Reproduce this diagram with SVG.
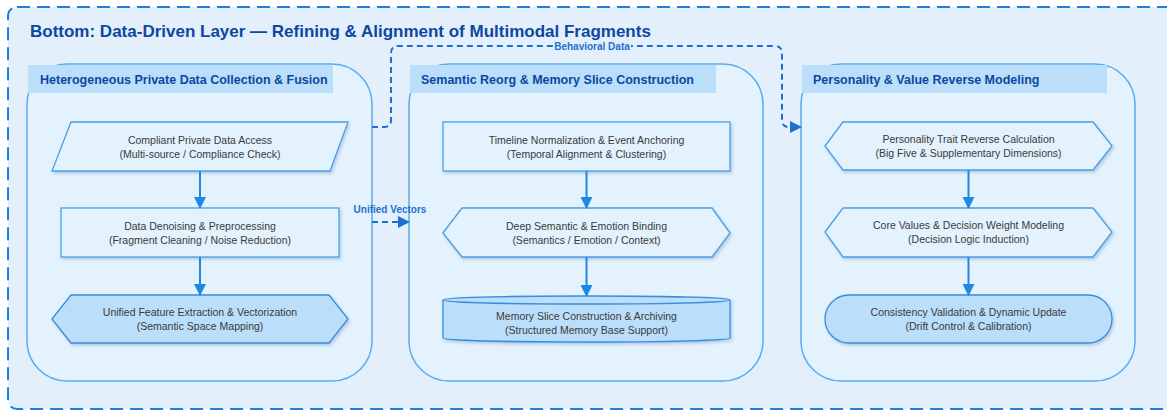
<svg xmlns="http://www.w3.org/2000/svg" width="1167" height="411" viewBox="0 0 1167 411">
<style>
.title{font-family:"Liberation Sans",Arial,sans-serif;font-weight:bold;font-size:17px;fill:#0d47a1}
.hdr{font-family:"Liberation Sans",Arial,sans-serif;font-weight:bold;font-size:12.5px;fill:#0d47a1}
.band{fill:#bbdefb}
.cont{fill:#e3f2fd;stroke:#5aacf0;stroke-width:1.5}
.node{fill:#e3f2fd;stroke:#4a9fe8;stroke-width:1.3;filter:url(#sh)}
.nodeD{fill:#bbdefb;stroke:#3a8de0;stroke-width:1.3;filter:url(#sh)}
.nt{font-family:"Liberation Sans",Arial,sans-serif;font-size:10.5px;fill:#3a3a3a;text-anchor:middle}
.flow{stroke:#1e88e5;stroke-width:2;fill:none;marker-end:url(#ah)}
.dash{stroke:#1f6fd0;stroke-width:2;fill:none;stroke-dasharray:6 4;marker-end:url(#ahd)}
.lbl{font-family:"Liberation Sans",Arial,sans-serif;font-weight:bold;font-size:10px;fill:#1f6fd0;text-anchor:middle}
</style>
<defs>
<filter id="sh" x="-10%" y="-20%" width="120%" height="150%">
<feDropShadow dx="1.5" dy="2" stdDeviation="1.5" flood-color="#5a7fa8" flood-opacity="0.35"/>
</filter>
<marker id="ah" markerUnits="userSpaceOnUse" markerWidth="12" markerHeight="12" viewBox="0 0 12 12" refX="11" refY="6" orient="auto">
<path d="M0,0 L12,6 L0,12 Z" fill="#1e88e5"/>
</marker>
<marker id="ahd" markerUnits="userSpaceOnUse" markerWidth="12" markerHeight="12" viewBox="0 0 12 12" refX="11" refY="6" orient="auto">
<path d="M0,0 L12,6 L0,12 Z" fill="#1f6fd0"/>
</marker>
</defs>
<rect x="0" y="0" width="1167" height="411" fill="#ffffff"/>
<g id="layer">
<rect x="8" y="7" width="1175" height="402" rx="9" fill="#e3f0fc" stroke="#1e7fe0" stroke-width="2" stroke-dasharray="13 7"/>
<text class="title" x="30" y="37">Bottom: Data-Driven Layer — Refining &amp; Alignment of Multimodal Fragments</text>
</g>
<g id="group-collection">
<rect class="cont" x="27" y="64" width="345" height="317" rx="40"/>
<rect class="band" x="28" y="65" width="305" height="28"/>
<text class="hdr" x="40" y="84">Heterogeneous Private Data Collection &amp; Fusion</text>
</g>
<g id="group-semantic">
<rect class="cont" x="409" y="64" width="354" height="317" rx="40"/>
<rect class="band" x="410" y="65" width="306" height="28"/>
<text class="hdr" x="421" y="84">Semantic Reorg &amp; Memory Slice Construction</text>
</g>
<g id="group-personality">
<rect class="cont" x="801" y="64" width="334" height="317" rx="40"/>
<rect class="band" x="802" y="65" width="305" height="28"/>
<text class="hdr" x="813" y="84">Personality &amp; Value Reverse Modeling</text>
</g>
<g id="n-access">
<polygon class="node" points="71,122 348,122 330,171 52,171"/>
<text class="nt" x="200" y="144">Compliant Private Data Access</text>
<text class="nt" x="200" y="158">(Multi-source / Compliance Check)</text>
</g>
<g id="n-denoise">
<rect class="node" x="61" y="208" width="278" height="49"/>
<text class="nt" x="200" y="230">Data Denoising &amp; Preprocessing</text>
<text class="nt" x="200" y="244">(Fragment Cleaning / Noise Reduction)</text>
</g>
<g id="n-feature">
<polygon class="nodeD" points="52,319 71,295 329,295 348,319 329,343 71,343"/>
<text class="nt" x="200" y="316">Unified Feature Extraction &amp; Vectorization</text>
<text class="nt" x="200" y="330">(Semantic Space Mapping)</text>
</g>
<g id="n-timeline">
<rect class="node" x="443" y="122" width="287" height="49"/>
<text class="nt" x="586.5" y="144">Timeline Normalization &amp; Event Anchoring</text>
<text class="nt" x="586.5" y="158">(Temporal Alignment &amp; Clustering)</text>
</g>
<g id="n-binding">
<polygon class="node" points="443,233 462,208 712,208 730,233 712,257 462,257"/>
<text class="nt" x="586.5" y="230">Deep Semantic &amp; Emotion Binding</text>
<text class="nt" x="586.5" y="244">(Semantics / Emotion / Context)</text>
</g>
<g id="n-memory">
<path class="nodeD" d="M443,300 A143.5,4 0 0 1 730,300 V338 A143.5,4 0 0 1 443,338 Z"/>
<path d="M443,300 A143.5,4 0 0 0 730,300" fill="none" stroke="#3a8de0" stroke-width="1.3"/>
<text class="nt" x="586.5" y="320">Memory Slice Construction &amp; Archiving</text>
<text class="nt" x="586.5" y="334">(Structured Memory Base Support)</text>
</g>
<g id="n-trait">
<polygon class="node" points="825,146 843,122 1093,122 1112,146 1093,170 843,170"/>
<text class="nt" x="968.5" y="143">Personality Trait Reverse Calculation</text>
<text class="nt" x="968.5" y="157">(Big Five &amp; Supplementary Dimensions)</text>
</g>
<g id="n-values">
<polygon class="node" points="825,232 843,208 1093,208 1112,232 1093,257 843,257"/>
<text class="nt" x="968.5" y="229">Core Values &amp; Decision Weight Modeling</text>
<text class="nt" x="968.5" y="243">(Decision Logic Induction)</text>
</g>
<g id="n-consistency">
<rect class="nodeD" x="825" y="295" width="287" height="48" rx="24"/>
<text class="nt" x="968.5" y="316">Consistency Validation &amp; Dynamic Update</text>
<text class="nt" x="968.5" y="330">(Drift Control &amp; Calibration)</text>
</g>
<g id="connectors">
<line class="flow" x1="200" y1="171" x2="200" y2="208"/>
<line class="flow" x1="200" y1="257" x2="200" y2="295"/>
<line class="flow" x1="586.5" y1="171" x2="586.5" y2="208"/>
<line class="flow" x1="586.5" y1="257" x2="586.5" y2="296"/>
<line class="flow" x1="968.5" y1="170" x2="968.5" y2="208"/>
<line class="flow" x1="968.5" y1="257" x2="968.5" y2="295"/>
<path class="dash" d="M372,222 H409"/>
<text class="lbl" x="390" y="213">Unified Vectors</text>
<path class="dash" d="M372,127 H384 Q391,127 391,120 V53 Q391,46 398,46 H775 Q782,46 782,53 V120 Q782,127 789,127 H801"/>
<rect x="553" y="40" width="78" height="12" fill="#e3f0fc"/>
<text class="lbl" x="592" y="49.5">Behavioral Data</text>
</g>
</svg>
